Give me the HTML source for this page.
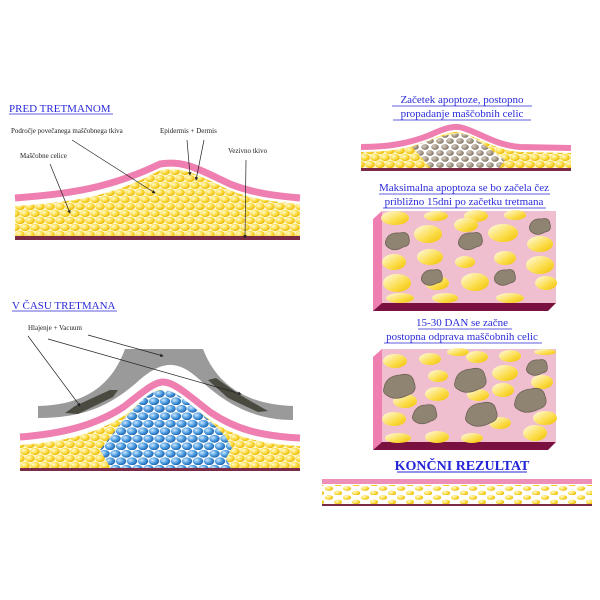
<!DOCTYPE html>
<html><head><meta charset="utf-8"><style>
html,body{margin:0;padding:0;background:#fff}
svg{display:block}
text{font-family:"Liberation Serif",serif}
.t{fill:#2a2ad8;font-size:11px}
.l{fill:#222;font-size:7px}
</style></head><body>
<svg width="600" height="600" viewBox="0 0 600 600" xmlns="http://www.w3.org/2000/svg">
<defs>
<radialGradient id="gy" cx="0.35" cy="0.35" r="0.7"><stop offset="0" stop-color="#fffbd0"/><stop offset="0.6" stop-color="#fbd93a"/><stop offset="1" stop-color="#e8b400"/></radialGradient>
<radialGradient id="gb" cx="0.35" cy="0.35" r="0.7"><stop offset="0" stop-color="#cfe8ff"/><stop offset="0.55" stop-color="#4a9be0"/><stop offset="1" stop-color="#1b5fa8"/></radialGradient>
<radialGradient id="gr" cx="0.35" cy="0.35" r="0.7"><stop offset="0" stop-color="#d8cfc2"/><stop offset="1" stop-color="#7e705e"/></radialGradient>
<linearGradient id="ge" x1="0" y1="0" x2="1" y2="1"><stop offset="0" stop-color="#fffce8"/><stop offset="0.6" stop-color="#fbdc48"/><stop offset="1" stop-color="#f0c000"/></linearGradient>
<pattern id="py" width="10" height="14" patternUnits="userSpaceOnUse">
<rect width="10" height="14" fill="#fff6c8"/>
<ellipse cx="5" cy="3.5" rx="4.8" ry="3.6" fill="url(#gy)"/>
<ellipse cx="0" cy="10.5" rx="4.8" ry="3.6" fill="url(#gy)"/><ellipse cx="10" cy="10.5" rx="4.8" ry="3.6" fill="url(#gy)"/>
</pattern>
<pattern id="pb" width="11" height="15" patternUnits="userSpaceOnUse">
<rect width="11" height="15" fill="#fff"/>
<ellipse cx="5.5" cy="3.8" rx="5.2" ry="3.9" fill="url(#gb)"/>
<ellipse cx="0" cy="11.3" rx="5.2" ry="3.9" fill="url(#gb)"/><ellipse cx="11" cy="11.3" rx="5.2" ry="3.9" fill="url(#gb)"/>
</pattern>
<pattern id="pr" width="10" height="12" patternUnits="userSpaceOnUse">
<rect width="10" height="12" fill="#fff"/>
<ellipse cx="5" cy="3" rx="3.8" ry="2.9" fill="url(#gr)"/>
<ellipse cx="0" cy="9" rx="3.8" ry="2.9" fill="url(#gr)"/><ellipse cx="10" cy="9" rx="3.8" ry="2.9" fill="url(#gr)"/>
</pattern>
<pattern id="pf" width="18" height="9" patternUnits="userSpaceOnUse">
<rect width="18" height="9" fill="#fff"/>
<ellipse cx="5" cy="2.5" rx="4.2" ry="2.3" fill="url(#gy)"/>
<ellipse cx="14" cy="7" rx="4.2" ry="2.3" fill="url(#gy)"/>
</pattern>
<marker id="ar" markerWidth="5" markerHeight="5" refX="4" refY="2.5" orient="auto"><path d="M0,0 L5,2.5 L0,5z" fill="#222"/></marker>
</defs>

<!-- PANEL 1 -->
<text x="9" y="112" class="t">PRED TRETMANOM</text>
<line x1="9" y1="114" x2="113" y2="114" stroke="#2a2ad8" stroke-width="0.8"/>
<path d="M15,206 C70,202 110,198 160,170 C185,166 200,176 230,190 C255,200 280,202 300,204 L300,237 L15,237Z" fill="url(#py)"/>
<path d="M15,198 C70,194 110,188 160,164 C185,160 200,170 230,184 C255,194 280,196 300,198" fill="none" stroke="#ee7fb0" stroke-width="7"/>
<path d="M15,203.5 C70,199.5 110,193.5 160,169.5 C185,165.5 200,175.5 230,189.5 C255,199.5 280,201.5 300,203.5" fill="none" stroke="#fff" stroke-width="1.3"/>
<rect x="15" y="236" width="285" height="4" fill="#7a2a45"/>
<text x="11" y="133" class="l">Področje povečanega maščobnega tkiva</text>
<text x="160" y="133" class="l">Epidermis + Dermis</text>
<text x="20" y="158" class="l">Maščobne celice</text>
<text x="228" y="153" class="l">Vezivno tkivo</text>
<g stroke="#222" stroke-width="0.7" fill="none" marker-end="url(#ar)">
<line x1="72" y1="140" x2="155" y2="193"/>
<line x1="50" y1="164" x2="70" y2="213"/>
<line x1="187" y1="140" x2="190" y2="175"/>
<line x1="204" y1="140" x2="196" y2="180"/>
<line x1="246" y1="160" x2="245" y2="238"/>
</g>

<!-- PANEL 2 -->
<text x="12" y="309" class="t">V ČASU TRETMANA</text>
<line x1="12" y1="311" x2="117" y2="311" stroke="#2a2ad8" stroke-width="0.8"/>
<text x="28" y="330" class="l">Hlajenje + Vacuum</text>
<path d="M125,349 L203,349 C215,380 240,404 293,406 L293,420 C250,420 222,400 200,380 C188,369 178,364 168,365 C158,366 148,372 135,384 C110,405 85,418 38,418 L38,406 C85,405 112,385 125,349Z" fill="#9a9a9a"/>
<path d="M65,413 L78,414 L113,397 L118,390 L110,390 L75,406Z" fill="#4a4a40"/>
<path d="M208,380 L216,378 L240,395 L268,411 L258,412 L228,398Z" fill="#4a4a40"/>
<path d="M20,445 C60,442 95,435 125,415 C145,398 155,388 163,390 C175,390 190,405 210,420 C235,437 260,444 300,446 L300,468 L20,468Z" fill="url(#py)"/>
<path d="M108,440 L100,450 L106,460 L112,470 L232,470 L226,458 L232,448 L225,436 C215,425 200,412 185,400 C175,392 168,390 163,390 C150,390 140,402 125,418Z" fill="url(#pb)"/>
<path d="M20,437 C60,434 95,426 125,406 C145,390 155,382 163,382 C175,382 190,397 210,412 C235,429 260,436 300,438" fill="none" stroke="#ee7fb0" stroke-width="7"/>
<path d="M20,442 C60,439 95,431 125,411 C145,395 155,387 163,387 C175,387 190,402 210,417 C235,434 260,441 300,443" fill="none" stroke="#fff" stroke-width="1.3"/>
<rect x="20" y="468" width="280" height="3" fill="#7a2a45"/>
<g stroke="#222" stroke-width="0.7" fill="none" marker-end="url(#ar)">
<line x1="28" y1="336" x2="80" y2="406"/>
<line x1="48" y1="339" x2="241" y2="394"/>
<line x1="88" y1="335" x2="163" y2="356"/>
</g>

<!-- RIGHT TOP small skin -->
<text x="462" y="103" class="t" text-anchor="middle">Začetek apoptoze, postopno</text>
<text x="462" y="117" class="t" text-anchor="middle">propadanje maščobnih celic</text>
<line x1="392" y1="106" x2="532" y2="106" stroke="#2a2ad8" stroke-width="0.7"/>
<line x1="393" y1="120" x2="531" y2="120" stroke="#2a2ad8" stroke-width="0.7"/>
<path d="M361,152 C390,152 410,148 430,140 C445,133 455,130 463,133 C480,138 495,150 520,152 L571,153 L571,170 L361,170Z" fill="url(#py)"/>
<path d="M412,147 C440,136 455,132 465,134 C480,140 490,150 505,160 L498,170 L432,170 L422,158Z" fill="url(#pr)"/>
<path d="M361,147 C390,147 410,143 430,135 C445,128 455,125 463,128 C480,133 495,145 520,147 L571,148" fill="none" stroke="#ee7fb0" stroke-width="6"/>
<rect x="361" y="168" width="210" height="3" fill="#7a2a45"/>

<!-- BOX 1 -->
<text x="464" y="191" class="t" text-anchor="middle">Maksimalna apoptoza se bo začela čez</text>
<text x="464" y="205" class="t" text-anchor="middle">približno 15dni po začetku tretmana</text>
<line x1="379" y1="194" x2="550" y2="194" stroke="#2a2ad8" stroke-width="0.7"/>
<line x1="383" y1="208" x2="546" y2="208" stroke="#2a2ad8" stroke-width="0.7"/>
<rect x="382" y="211" width="174" height="92" fill="#f0bfcf"/>
<path d="M373,219 L382,211 L382,303 L373,311Z" fill="#ee7fb0"/>
<path d="M373,311 L382,303 L556,303 L548,311Z" fill="#7a1040"/>
<g fill="url(#ge)">
<ellipse cx="395" cy="218" rx="14" ry="7"/><ellipse cx="436" cy="216" rx="12" ry="5"/><ellipse cx="476" cy="216" rx="12" ry="6"/><ellipse cx="515" cy="215" rx="11" ry="5"/>
<ellipse cx="428" cy="234" rx="14" ry="9"/><ellipse cx="466" cy="225" rx="12" ry="7"/><ellipse cx="503" cy="233" rx="15" ry="9"/>
<ellipse cx="394" cy="262" rx="12" ry="8"/><ellipse cx="430" cy="257" rx="13" ry="8"/><ellipse cx="505" cy="258" rx="11" ry="7"/><ellipse cx="540" cy="244" rx="13" ry="8"/>
<ellipse cx="465" cy="262" rx="10" ry="6"/><ellipse cx="397" cy="283" rx="14" ry="9"/><ellipse cx="437" cy="283" rx="12" ry="7"/><ellipse cx="475" cy="282" rx="14" ry="9"/>
<ellipse cx="540" cy="265" rx="14" ry="9"/><ellipse cx="546" cy="283" rx="11" ry="7"/><ellipse cx="400" cy="298" rx="14" ry="5"/><ellipse cx="445" cy="298" rx="13" ry="5"/><ellipse cx="510" cy="298" rx="14" ry="5"/>
</g>
<g fill="#8f8372" stroke="#6d6355" stroke-width="0.8">
<path d="M386,240 q3,-8 14,-7 q8,-2 9,5 q2,8 -6,9 q-8,5 -14,1 q-5,-3 -3,-8z"/>
<path d="M459,240 q3,-8 14,-7 q8,-2 9,5 q2,8 -6,9 q-8,5 -14,1 q-5,-3 -3,-8z"/>
<path d="M530,225 q3,-7 12,-6 q7,-2 8,5 q2,7 -5,8 q-7,4 -12,1 q-5,-3 -3,-8z"/>
<path d="M422,276 q3,-7 12,-6 q7,-2 8,5 q2,7 -5,8 q-7,4 -12,1 q-5,-3 -3,-8z"/>
<path d="M495,276 q3,-7 12,-6 q7,-2 8,5 q2,7 -5,8 q-7,4 -12,1 q-5,-3 -3,-8z"/>
</g>

<!-- BOX 2 -->
<text x="462" y="326" class="t" text-anchor="middle">15-30 DAN se začne</text>
<text x="462" y="340" class="t" text-anchor="middle">postopna odprava maščobnih celic</text>
<line x1="418" y1="329" x2="512" y2="329" stroke="#2a2ad8" stroke-width="0.7"/>
<line x1="384" y1="343" x2="542" y2="343" stroke="#2a2ad8" stroke-width="0.7"/>
<rect x="382" y="349" width="174" height="93" fill="#f0bfcf"/>
<path d="M373,357 L382,349 L382,442 L373,450Z" fill="#ee7fb0"/>
<path d="M373,450 L382,442 L556,442 L548,450Z" fill="#7a1040"/>
<g fill="url(#ge)">
<ellipse cx="395" cy="361" rx="12" ry="7"/><ellipse cx="430" cy="359" rx="11" ry="6"/><ellipse cx="458" cy="352" rx="11" ry="4"/><ellipse cx="477" cy="357" rx="11" ry="6"/><ellipse cx="510" cy="356" rx="11" ry="6"/><ellipse cx="545" cy="352" rx="11" ry="3"/>
<ellipse cx="438" cy="376" rx="10" ry="6"/><ellipse cx="505" cy="373" rx="13" ry="8"/><ellipse cx="542" cy="382" rx="11" ry="7"/>
<ellipse cx="405" cy="401" rx="12" ry="7"/><ellipse cx="437" cy="394" rx="12" ry="7"/><ellipse cx="478" cy="395" rx="11" ry="6"/><ellipse cx="503" cy="390" rx="11" ry="7"/>
<ellipse cx="394" cy="419" rx="12" ry="7"/><ellipse cx="545" cy="418" rx="12" ry="7"/><ellipse cx="535" cy="433" rx="12" ry="8"/><ellipse cx="500" cy="423" rx="11" ry="6"/>
<ellipse cx="398" cy="438" rx="13" ry="5"/><ellipse cx="437" cy="437" rx="12" ry="6"/><ellipse cx="472" cy="438" rx="11" ry="5"/>
</g>
<g fill="#8f8372" stroke="#6d6355" stroke-width="0.8">
<path d="M384,388 q2,-12 16,-13 q12,-3 14,7 q4,10 -6,13 q-12,6 -20,1 q-6,-3 -4,-8z"/>
<path d="M455,382 q2,-12 16,-13 q12,-3 14,7 q4,10 -6,13 q-12,6 -20,1 q-6,-3 -4,-8z"/>
<path d="M527,367 q3,-8 12,-7 q7,-2 8,5 q2,7 -5,8 q-7,4 -12,1 q-5,-3 -3,-7z"/>
<path d="M413,415 q3,-10 13,-10 q9,-2 10,6 q3,8 -5,10 q-9,5 -15,1 q-5,-3 -3,-7z"/>
<path d="M466,416 q2,-12 16,-13 q12,-3 14,7 q4,10 -6,13 q-12,6 -20,1 q-6,-3 -4,-8z"/>
<path d="M515,402 q2,-12 16,-13 q12,-3 14,7 q4,10 -6,13 q-12,6 -20,1 q-6,-3 -4,-8z"/>
</g>

<!-- FINAL -->
<text x="462" y="470" text-anchor="middle" style="font-size:14px;font-weight:bold;fill:#2323d8">KONČNI REZULTAT</text>
<line x1="397" y1="472" x2="527" y2="472" stroke="#2323d8" stroke-width="0.9"/>
<rect x="322" y="479" width="270" height="5" fill="#ee8fb8"/>
<rect x="322" y="485" width="270" height="19" fill="url(#pf)"/>
<rect x="322" y="504" width="270" height="2" fill="#7a2a45"/>
</svg>
</body></html>
